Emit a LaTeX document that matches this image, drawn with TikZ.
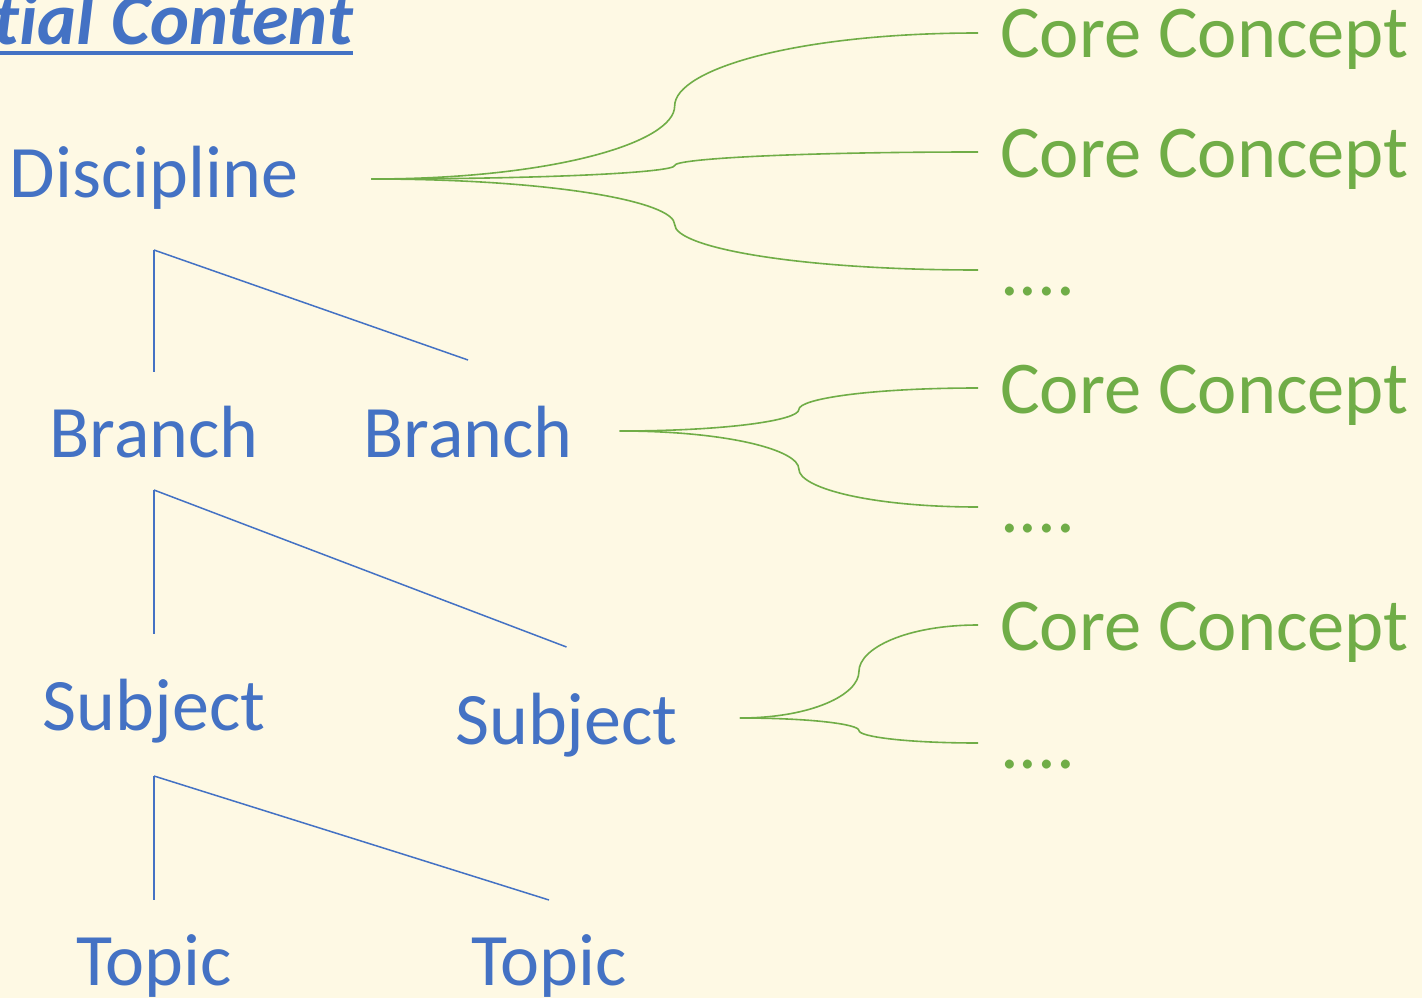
\documentclass[tikz,border=0pt]{standalone}
\usepackage{fontspec}
\setmainfont{Carlito}
\usetikzlibrary{calc}

\definecolor{paper}{HTML}{FEF9E4}
\definecolor{levelblue}{HTML}{4472C4}
\definecolor{coregreen}{HTML}{70AD47}

% curly connector from a source point to a leaf, bending half way
\newcommand\corebrace[2]{%
  \coordinate (bm) at ($(#1)!.5!(#2)$);
  \draw[coreline] (#1) .. controls ($(#1)!.6!(#1-|bm)$) and ($(bm)!.5!(bm|-#1)$) .. (bm)
    .. controls ($(bm)!.5!(bm|-#2)$) and ($(#2)!.6!(#2-|bm)$) .. (#2);}

\begin{document}
\begin{tikzpicture}[
x=1pt, y=-1pt,
level/.style={
    anchor=base,
    inner sep=0pt,
    text=levelblue,
    font=\fontsize{74}{88}\selectfont},
leaf/.style={
    anchor=west,
    inner xsep=22pt,
    inner ysep=0pt,
    text height=50pt,
    text depth=0pt,
    text=coregreen,
    font=\fontsize{74.5}{88}\selectfont},
treeline/.style={draw=levelblue, line width=1.5pt},
coreline/.style={draw=coregreen, line width=1.6pt}
]

\fill[paper] (0,0) rectangle (1422,998);
\useasboundingbox (0,0) rectangle (1422,998);

%\draw (0,0) grid[step=100] (1422,998);

\node at (353, 45) [level, anchor=base east, font=\fontsize{74}{88}\selectfont\bfseries\itshape\addfontfeatures{Ligatures=NoCommon}] (title) {Essential Content};
\draw[levelblue, line width=3.5pt] ([yshift=-8pt]title.base west) -- ([yshift=-8pt]title.base east);

\node at (154, 197) [level] (disc) {Discipline};
\node at (154, 457) [level] (br1) {Branch};
\node at (468, 457) [level] (br2) {Branch};
\node at (154, 730) [level] (sub1) {Subject};
\node at (566.5, 744) [level] (sub2) {Subject};
\node at (154, 985) [level] (top1) {Topic};
\node at (549, 985) [level] (top2) {Topic};

\node at (978, 33) [leaf] (cc1) {Core Concept};
\node at (978, 152) [leaf] (cc2) {Core Concept};
\node at (978, 270) [leaf] (dots1) {....};
\node at (978, 388) [leaf] (cc3) {Core Concept};
\node at (978, 507) [leaf] (dots2) {....};
\node at (978, 625) [leaf] (cc4) {Core Concept};
\node at (978, 743) [leaf] (dots3) {....};

\draw[treeline] ([yshift=-53pt]disc.base) -- ([yshift=85pt]br1.base);
\draw[treeline] ([yshift=-53pt]disc.base) -- ([yshift=97pt]br2.base);
\draw[treeline] ([yshift=-33pt]br1.base) -- ([yshift=96pt]sub1.base);
\draw[treeline] ([yshift=-33pt]br1.base) -- ([yshift=97pt]sub2.base);
\draw[treeline] ([yshift=-46pt]sub1.base) -- ([yshift=85pt]top1.base);
\draw[treeline] ([yshift=-46pt]sub1.base) -- ([yshift=85pt]top2.base);

\coordinate (discout) at ([xshift=73pt, yshift=18pt]disc.base east);
\coordinate (br2out) at ([xshift=47pt, yshift=26pt]br2.base east);
\coordinate (sub2out) at ([xshift=62pt, yshift=26pt]sub2.base east);

\corebrace{discout}{cc1.west}
\corebrace{discout}{cc2.west}
\corebrace{discout}{dots1.west}
\corebrace{br2out}{cc3.west}
\corebrace{br2out}{dots2.west}
\corebrace{sub2out}{cc4.west}
\corebrace{sub2out}{dots3.west}

\end{tikzpicture}
\end{document}
